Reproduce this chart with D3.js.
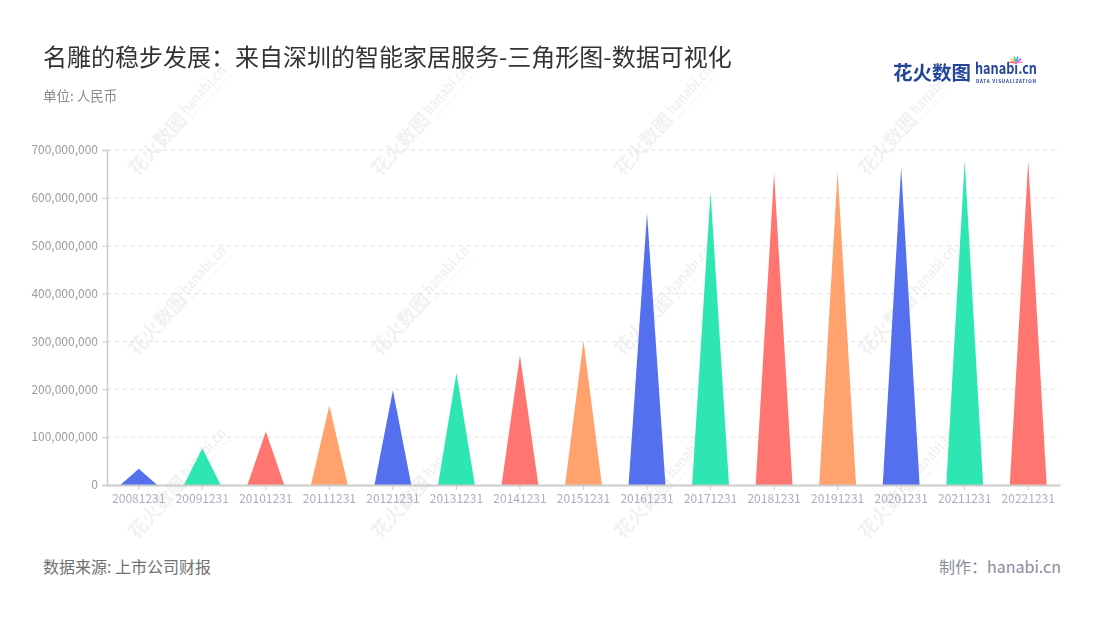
<!DOCTYPE html>
<html>
<head>
<meta charset="utf-8">
<script src="https://cdn.jsdelivr.net/npm/d3@7"></script>
<style>
  body { margin: 0; background: #fff; }
  svg { display: block; font-family: "Noto Sans CJK SC", "Noto Sans", sans-serif; }
</style>
</head>
<body>
<div id="chart"></div>
<script>
'use strict'

const width = 1100,
  height = 620;
const margin = {top: 150, right: 40, bottom: 135, left: 107};

// data
const years = ['20081231', '20091231', '20101231', '20111231', '20121231',
  '20131231', '20141231', '20151231', '20161231', '20171231', '20181231',
  '20191231', '20201231', '20211231', '20221231'];
const revenue = [34000000, 77000000, 112000000, 166000000, 198000000,
  234000000, 271000000, 302000000, 568000000, 613000000, 652000000,
  655000000, 663000000, 677000000, 677000000];
const y_ticks = [0, 100000000, 200000000, 300000000, 400000000,
  500000000, 600000000, 700000000];
const palette = ['#5470ee', '#2ee6b1', '#ff7670', '#ffa26e'];

const svg = d3.select('#chart')
  .append('svg')
  .attr('width', width)
  .attr('height', height);

// watermark, drawn under everything
const marks = [];
[137, 380, 623, 867].forEach(x => [177, 357, 540].forEach(y => marks.push([x, y])));
const wm = svg.append('g')
  .attr('fill', '#000')
  .attr('opacity', 0.055)
  .selectAll('g')
  .data(marks)
  .join('g')
  .attr('transform', d => `translate(${d[0]},${d[1]}) rotate(-48)`);
wm.append('text')
  .attr('font-size', 19)
  .attr('font-weight', 'bold')
  .text('花火数图');
wm.append('text')
  .attr('x', 79)
  .attr('y', -4)
  .attr('font-size', 15)
  .attr('font-weight', 'bold')
  .attr('textLength', 60)
  .attr('lengthAdjust', 'spacingAndGlyphs')
  .text('hanabi.cn');
wm.append('text')
  .attr('x', 80)
  .attr('y', 3)
  .attr('font-size', 4)
  .attr('font-weight', 'bold')
  .attr('textLength', 57)
  .text('DATA VISUALIZATION');

// title
svg.append('text')
  .attr('x', 43)
  .attr('y', 66)
  .attr('font-size', 24)
  .attr('fill', '#333')
  .text('名雕的稳步发展：来自深圳的智能家居服务-三角形图-数据可视化');
svg.append('text')
  .attr('x', 43)
  .attr('y', 101)
  .attr('font-size', 13.5)
  .attr('fill', '#8a8a8a')
  .text('单位: 人民币');

// logo
const logo = svg.append('g').attr('fill', '#24479c');
logo.append('text')
  .attr('x', 893)
  .attr('y', 80)
  .attr('font-size', 19.5)
  .attr('font-weight', 'bold')
  .text('花火数图');
logo.append('text')
  .attr('x', 975)
  .attr('y', 74)
  .attr('font-size', 15)
  .attr('font-weight', 'bold')
  .attr('textLength', 62)
  .attr('lengthAdjust', 'spacingAndGlyphs')
  .text('hanabi.cn');
logo.append('text')
  .attr('x', 976)
  .attr('y', 83)
  .attr('font-size', 4.6)
  .attr('font-weight', 'bold')
  .attr('textLength', 60)
  .text('DATA VISUALIZATION');
const spark = ['#ff5e5e', '#ffb238', '#3ccf8e', '#3aa0ff', '#a56bff', '#ff7ac8'];
logo.append('g')
  .selectAll('line')
  .data(spark)
  .join('line')
  .attr('x1', 1016)
  .attr('y1', 63)
  .attr('x2', (d, i) => 1016 + 6 * Math.cos(Math.PI * (1.05 + i * 0.18)))
  .attr('y2', (d, i) => 63 + 6 * Math.sin(Math.PI * (1.05 + i * 0.18)))
  .attr('stroke', d => d)
  .attr('stroke-width', 1.6)
  .attr('stroke-linecap', 'round');

// scales
const x = d3.scaleBand()
  .domain(years)
  .range([margin.left, width - margin.right]);
const y = d3.scaleLinear()
  .domain([0, 700000000])
  .range([height - margin.bottom, margin.top]);

// grid
svg.append('g')
  .selectAll('line')
  .data(y_ticks.slice(1))
  .join('line')
  .attr('x1', margin.left)
  .attr('x2', width - margin.right)
  .attr('y1', d => y(d))
  .attr('y2', d => y(d))
  .attr('stroke', '#e0e0e0')
  .attr('stroke-dasharray', '4,4');

// y axis
const y_axis = svg.append('g')
  .attr('transform', `translate(${margin.left},0)`)
  .call(d3.axisLeft(y).tickValues(y_ticks).tickSize(5).tickPadding(4)
    .tickFormat(d3.format(',')));
y_axis.select('.domain').attr('stroke', '#ccc').attr('stroke-width', 1.5);
y_axis.selectAll('.tick line').attr('stroke', '#ccc');
y_axis.selectAll('.tick text')
  .attr('fill', '#9d9d9d')
  .attr('font-size', 12)
  .attr('font-family', '"Noto Sans CJK SC", sans-serif');

// triangles
const half = x.bandwidth() * 0.29;
svg.append('g')
  .selectAll('path')
  .data(years)
  .join('path')
  .attr('d', (d, i) => {
    const cx = x(d) + x.bandwidth() / 2;
    return `M${cx - half},${y(0)}L${cx},${y(revenue[i])}L${cx + half},${y(0)}Z`;
  })
  .attr('fill', (d, i) => palette[i % palette.length]);

// x axis
const x_axis = svg.append('g')
  .attr('transform', `translate(0,${y(0)})`)
  .call(d3.axisBottom(x).tickSize(5).tickPadding(4).tickSizeOuter(0));
x_axis.select('.domain').attr('stroke', '#ccc').attr('stroke-width', 2);
x_axis.selectAll('.tick line').attr('stroke', '#ccc');
x_axis.selectAll('.tick text')
  .attr('fill', '#a9aec0')
  .attr('font-size', 12)
  .attr('font-family', '"Noto Sans CJK SC", sans-serif');

// footer
svg.append('text')
  .attr('x', 43)
  .attr('y', 573)
  .attr('font-size', 16)
  .attr('fill', '#707070')
  .text('数据来源: 上市公司财报');
svg.append('text')
  .attr('x', 1061)
  .attr('y', 573)
  .attr('font-size', 16)
  .attr('text-anchor', 'end')
  .attr('fill', '#8a8a9a')
  .text('制作：hanabi.cn');
</script>
</body>
</html>
